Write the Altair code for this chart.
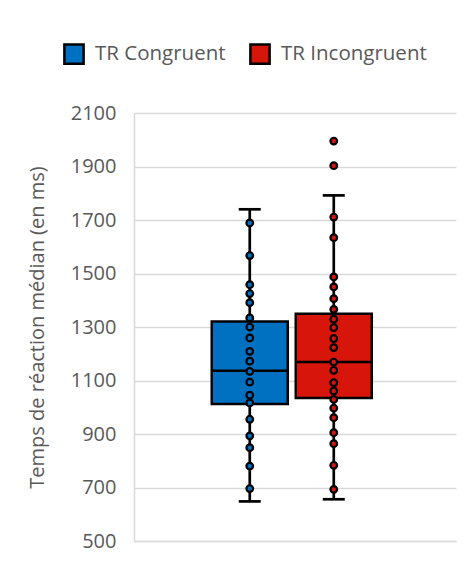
import altair as alt
import pandas as pd

series = ["TR Congruent", "TR Incongruent"]
colors = ["#0070C0", "#D7150B"]
category = ""

q1 = [1012, 1035]
median = [1136, 1169]
q3 = [1321, 1350]
whisker_low = [648, 656]
whisker_high = [1740, 1792]

congruent_points = [1689, 1567, 1458, 1425, 1391, 1334, 1300, 1259, 1209, 1172,
                    1134, 1094, 1045, 1016, 955, 893, 849, 780, 696]
incongruent_points = [1995, 1903, 1711, 1634, 1487, 1450, 1406, 1366, 1329, 1298,
                      1257, 1223, 1169, 1138, 1092, 1061, 1029, 997, 961, 905,
                      864, 783, 693]

y_ticks = [500, 700, 900, 1100, 1300, 1500, 1700, 1900, 2100]
y_title = "Temps de réaction médian (en ms)"

stats = pd.DataFrame({
    "cat": [category] * len(series),
    "serie": series,
    "q1": q1, "median": median, "q3": q3,
    "wlo": whisker_low, "whi": whisker_high,
})
pts = pd.DataFrame(
    [{"cat": category, "serie": series[0], "v": v} for v in congruent_points]
    + [{"cat": category, "serie": series[1], "v": v} for v in incongruent_points]
)

FONT = "Open Sans"
TXT = "#595959"
GRID = "#d9d9d9"

x_enc = alt.X("cat:N", title=None,
              scale=alt.Scale(paddingInner=0, paddingOuter=0.506, align=0.48),
              axis=alt.Axis(labels=False, ticks=False, domain=True,
                            domainColor=GRID, domainWidth=1.5))
xo_enc = alt.XOffset("serie:N", sort=series,
                     scale=alt.Scale(paddingInner=0.095, paddingOuter=0))
y_scale = alt.Scale(domain=[500, 2100], nice=False, zero=False)
y_axis = alt.Axis(values=y_ticks, title=y_title, format="d", ticks=False,
                  domain=True, domainColor=GRID, domainWidth=1.5, grid=True,
                  gridColor=GRID, gridWidth=1.5, labelPadding=18,
                  labelFont=FONT, labelFontSize=20, labelColor=TXT,
                  titleFont=FONT, titleFontSize=20, titleColor=TXT,
                  titleFontWeight="normal",
                  titleX=-97, titleY=214, titleAlign="center",
                  titleBaseline="middle")
color_enc = alt.Color("serie:N", sort=series,
                      scale=alt.Scale(domain=series, range=colors),
                      legend=alt.Legend(title=None, orient="none",
                                        legendX=-71, legendY=-70,
                                        direction="horizontal",
                                        symbolType="square", symbolSize=370,
                                        symbolStrokeColor="black",
                                        symbolStrokeWidth=2.5,
                                        symbolOpacity=1,
                                        labelFontSize=20.5, labelColor=TXT,
                                        labelFont=FONT, labelOffset=10,
                                        columnPadding=19, padding=0))

base = alt.Chart(stats)

whisker = base.mark_rule(color="black", strokeWidth=2.7).encode(
    x=x_enc, xOffset=xo_enc,
    y=alt.Y("wlo:Q", scale=y_scale, axis=y_axis),
    y2="whi:Q",
)
cap_lo = base.mark_tick(color="black", thickness=2.7, size=22, opacity=1).encode(
    x=x_enc, xOffset=xo_enc, y=alt.Y("wlo:Q", scale=y_scale, axis=y_axis))
cap_hi = base.mark_tick(color="black", thickness=2.7, size=22, opacity=1).encode(
    x=x_enc, xOffset=xo_enc, y=alt.Y("whi:Q", scale=y_scale, axis=y_axis))
box = base.mark_bar(stroke="black", strokeWidth=2.5, opacity=1).encode(
    x=x_enc, xOffset=xo_enc,
    y=alt.Y("q1:Q", scale=y_scale, axis=y_axis), y2="q3:Q",
    color=color_enc,
)
med = base.mark_tick(color="black", thickness=2.5, size=76, opacity=1).encode(
    x=x_enc, xOffset=xo_enc, y=alt.Y("median:Q", scale=y_scale, axis=y_axis))
points = alt.Chart(pts).mark_point(filled=True, stroke="black", strokeWidth=2.2,
                                   size=44, opacity=1, shape="circle").encode(
    x=x_enc, xOffset=xo_enc,
    y=alt.Y("v:Q", scale=y_scale, axis=y_axis),
    color=alt.Color("serie:N", sort=series,
                    scale=alt.Scale(domain=series, range=colors), legend=None),
)

chart = alt.layer(whisker, box, med, cap_lo, cap_hi, points).properties(
    width=322, height=428,
    background="white",
    autosize=alt.AutoSizeParams(type="none"),
    padding={"left": 126, "top": 105, "right": 3, "bottom": 17},
).configure_view(stroke=None).configure_axis(
    labelFont=FONT, labelFontSize=20, labelColor=TXT,
    titleFont=FONT, titleFontSize=20, titleColor=TXT, titleFontWeight="normal",
)

chart.save("out.html", embed_options={"renderer": "svg", "actions": False})
